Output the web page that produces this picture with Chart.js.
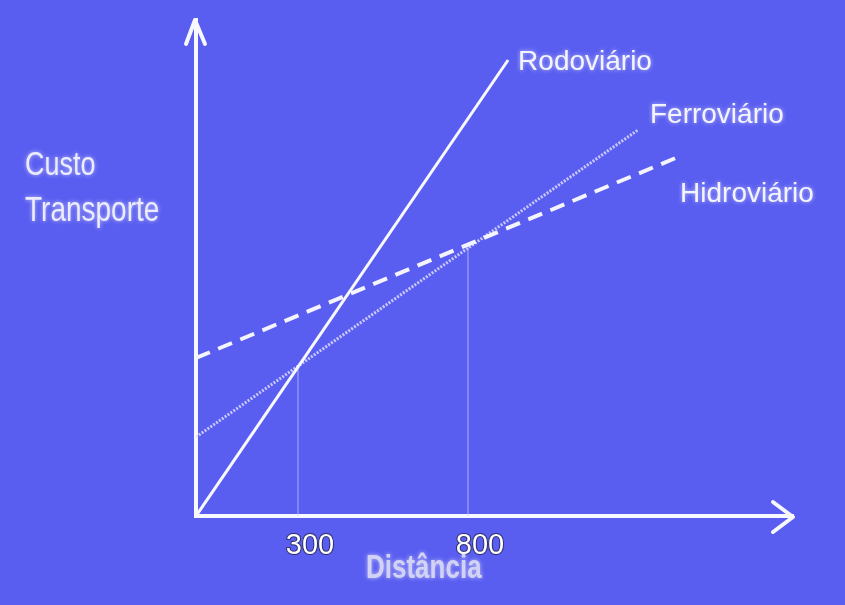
<!DOCTYPE html>
<html>
<head>
<meta charset="utf-8">
<script src="https://cdn.jsdelivr.net/npm/chart.js@4/dist/chart.umd.min.js"></script>
<style>
  html, body { margin: 0; padding: 0; background: #5a5ef0; }
  #wrap { width: 845px; height: 605px; }
</style>
</head>
<body>
<div id="wrap"><canvas id="c" width="845" height="605"></canvas></div>
<script>
// ---- data (distance in km, cost in arbitrary units) ----
const seriesNames = ['Rodoviário', 'Ferroviário', 'Hidroviário'];
const rodoviarioX = [0, 918];
const rodoviarioY = [0, 91.2];
const ferroviarioX = [0, 1300];
const ferroviarioY = [15.8, 77.2];
const hidroviarioX = [0, 1418];
const hidroviarioY = [31.6, 71.8];
const xTickValues = [300, 800];          // break-even distances
const breakEvenCost = [30, 54];          // cost where the reference lines stop
const yAxisTitle = ['Custo', 'Transporte'];
const xAxisTitle = 'Distância';
const xMax = 1756;
const yMax = 99.2;

const toPts = (xs, ys) => xs.map((x, i) => ({ x: x, y: ys[i] }));

const BG = '#5a5ef0';

const datasets = [
  // thin reference lines at the break-even distances
  ...xTickValues.map((v, i) => ({
    label: '',
    data: [{ x: v, y: 0 }, { x: v, y: breakEvenCost[i] }],
    borderColor: 'rgba(200,200,255,0.75)',
    borderWidth: 1,
    pointRadius: 0,
    order: 5
  })),
  {
    label: seriesNames[1],
    data: toPts(ferroviarioX, ferroviarioY),
    borderColor: 'rgba(220,220,255,0.85)',
    borderWidth: 3,
    borderDash: [2, 1.5],
    pointRadius: 0,
    order: 3
  },
  {
    label: seriesNames[2],
    data: toPts(hidroviarioX, hidroviarioY),
    borderColor: '#f4f4ff',
    borderWidth: 4,
    borderDash: [15, 9],
    pointRadius: 0,
    order: 2
  },
  {
    label: seriesNames[0],
    data: toPts(rodoviarioX, rodoviarioY),
    borderColor: '#f8f8ff',
    borderWidth: 3,
    pointRadius: 0,
    order: 1
  }
];

// label placement relative to each series' last point (style only)
const labelOffsets = {
  'Rodoviário':  { dx: 10, dy: 10 },
  'Ferroviário': { dx: 12, dy: -7 },
  'Hidroviário': { dx: 2,  dy: 45 }
};

const decorPlugin = {
  id: 'decor',
  beforeDraw(chart) {
    const ctx = chart.ctx;
    ctx.save();
    ctx.fillStyle = BG;
    ctx.fillRect(0, 0, chart.width, chart.height);
    ctx.restore();
  },
  afterDraw(chart) {
    const ctx = chart.ctx;
    const xs = chart.scales.x, ys = chart.scales.y;
    const x0 = xs.getPixelForValue(0), y0 = ys.getPixelForValue(0);
    const xEnd = xs.getPixelForValue(xMax), yEnd = ys.getPixelForValue(yMax);
    ctx.save();
    ctx.strokeStyle = '#f8f8ff';
    ctx.lineWidth = 4;
    ctx.lineCap = 'round';
    ctx.lineJoin = 'round';
    // x arrow head
    ctx.beginPath();
    ctx.moveTo(xEnd - 20, y0 - 14);
    ctx.lineTo(xEnd, y0 + 1);
    ctx.lineTo(xEnd - 20, y0 + 16);
    ctx.stroke();
    // y arrow head
    ctx.beginPath();
    ctx.moveTo(x0 - 10, yEnd + 24);
    ctx.lineTo(x0 - 1, yEnd);
    ctx.lineTo(x0 + 9, yEnd + 24);
    ctx.stroke();

    // series labels
    ctx.font = '28px "Liberation Sans", Arial, sans-serif';
    ctx.fillStyle = '#f4f4ff';
    ctx.textBaseline = 'alphabetic';
    ctx.shadowColor = 'rgba(255,255,255,0.6)';
    ctx.shadowBlur = 4;
    chart.data.datasets.forEach(ds => {
      const off = labelOffsets[ds.label];
      if (!off) return;
      const last = ds.data[ds.data.length - 1];
      const px = xs.getPixelForValue(last.x), py = ys.getPixelForValue(last.y);
      ctx.fillText(ds.label, px + off.dx, py + off.dy);
    });

    const drawStretched = (text, x, y, sy, font, color) => {
      ctx.save();
      ctx.translate(x, y);
      ctx.scale(1, sy);
      ctx.font = font;
      ctx.fillStyle = color;
      ctx.fillText(text, 0, 0);
      ctx.restore();
    };
    // y axis title (horizontal, left)
    drawStretched(yAxisTitle[0], 25, 175, 1.22, '27px "Liberation Sans", Arial, sans-serif', '#ececff');
    drawStretched(yAxisTitle[1], 25, 221, 1.22, '28px "Liberation Sans", Arial, sans-serif', '#ececff');
    // x axis title
    drawStretched(xAxisTitle, 366, 578, 1.28, 'bold 26px "Liberation Sans", Arial, sans-serif', '#d2d2f4');
    ctx.restore();
  }
};

new Chart(document.getElementById('c'), {
  type: 'line',
  data: { datasets },
  options: {
    responsive: false,
    animation: false,
    devicePixelRatio: 1,
    layout: { padding: { left: 196, right: 52, top: 20, bottom: 0 } },
    plugins: { legend: { display: false }, tooltip: { enabled: false } },
    scales: {
      x: {
        type: 'linear',
        min: 0,
        max: xMax,
        afterBuildTicks(scale) { scale.ticks = xTickValues.map(v => ({ value: v })); },
        afterFit(scale) { scale.height = 89; },
        grid: { display: false, drawTicks: false },
        border: { display: true, color: '#f8f8ff', width: 4 },
        ticks: {
          color: '#ffffff',
          font: { family: '"Liberation Sans", Arial, sans-serif', size: 29 },
          padding: 13,
          labelOffset: 12,
          maxRotation: 0,
          autoSkip: false,
          textStrokeColor: 'rgba(40,40,90,0.9)',
          textStrokeWidth: 2,
          callback: v => String(v)
        }
      },
      y: {
        type: 'linear',
        min: 0,
        max: yMax,
        afterFit(scale) { scale.width = 0; },
        grid: { display: false, drawTicks: false },
        border: { display: true, color: '#f8f8ff', width: 4 },
        ticks: { display: false }
      }
    }
  },
  plugins: [decorPlugin]
});
</script>
</body>
</html>
